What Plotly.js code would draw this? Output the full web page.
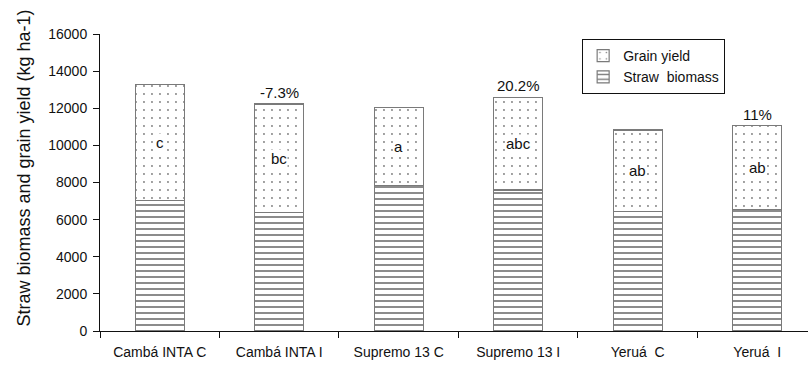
<!DOCTYPE html>
<html>
<head>
<meta charset="utf-8">
<script src="https://cdn.plot.ly/plotly-3.0.1.min.js"></script>
<style>
  html, body { margin: 0; padding: 0; background: #fff; }
  #chart { width: 808px; height: 367px; }
</style>
</head>
<body>
<div id="chart"></div>
<script>
// Cultivars / treatments on the x axis
const categories = ['Cambá INTA C', 'Cambá INTA I', 'Supremo 13 C', 'Supremo 13 I', 'Yeruá\u00a0 C', 'Yeruá\u00a0 I'];
// Straw biomass (kg ha-1), lower stacked segment
const straw = [7050, 6400, 7820, 7600, 6430, 6560];
// Grain yield (kg ha-1), upper stacked segment
const grain = [6250, 5830, 4230, 4990, 4400, 4500];
// Significance letters for grain yield
const letters = ['c', 'bc', 'a', 'abc', 'ab', 'ab'];
// Relative change labels shown above the bars
const changes = ['', '-7.3%', '', '20.2%', '', '11%'];
// Y axis ticks
const yTicks = [0, 2000, 4000, 6000, 8000, 10000, 12000, 14000, 16000];

const FONT = 'Liberation Sans, Arial, Helvetica, sans-serif';
const outline = { color: '#7a7a7a', width: 1.2 };

const strawTrace = {
  type: 'bar',
  name: 'Straw\u00a0 biomass',
  x: categories,
  y: straw,
  width: 0.41,
  marker: {
    color: '#ffffff',
    line: outline,
    pattern: { shape: '-', size: 6, solidity: 0.3, fgcolor: '#000000', bgcolor: '#ffffff', fillmode: 'overlay' }
  },
  hoverinfo: 'skip'
};

const grainTrace = {
  type: 'bar',
  name: 'Grain yield',
  x: categories,
  y: grain,
  width: 0.41,
  marker: {
    color: '#ffffff',
    line: outline,
    pattern: { shape: '.', size: 8, solidity: 0.045, fgcolor: '#000000', bgcolor: '#ffffff', fillmode: 'overlay' }
  },
  hoverinfo: 'skip'
};

const annotations = [];
categories.forEach((c, i) => {
  const total = straw[i] + grain[i];
  annotations.push({
    x: c, y: straw[i] + grain[i] / 2, xref: 'x', yref: 'y',
    text: letters[i], showarrow: false,
    font: { family: FONT, size: 15, color: '#111' },
    bgcolor: '#ffffff', borderpad: 0
  });
  if (changes[i]) {
    annotations.push({
      x: c, y: total, xref: 'x', yref: 'y',
      text: changes[i], showarrow: false, yanchor: 'bottom', yshift: 1,
      font: { family: FONT, size: 15, color: '#111' }
    });
  }
});

// Vertical axis title, drawn as a rotated paper-anchored label
annotations.push({
  xref: 'paper', yref: 'paper', x: -0.1073, y: 0.547,
  xanchor: 'center', yanchor: 'middle', textangle: -90,
  text: 'Straw biomass and grain yield (kg ha-1)', showarrow: false,
  font: { family: FONT, size: 18, color: '#111' }
});

const layout = {
  width: 808,
  height: 367,
  margin: { l: 100, r: 0, t: 34, b: 36 },
  paper_bgcolor: '#ffffff',
  plot_bgcolor: '#ffffff',
  barmode: 'stack',
  showlegend: true,
  font: { family: FONT, size: 14, color: '#111' },
  xaxis: {
    type: 'category',
    range: [-0.5, 5.425],
    showline: true, linecolor: '#111', linewidth: 1,
    ticks: 'outside', tickson: 'boundaries', ticklen: 6, tickcolor: '#111',
    tickfont: { family: FONT, size: 14, color: '#111' },
    ticklabelstandoff: 8,
    showgrid: false, zeroline: false, fixedrange: true
  },
  yaxis: {
    range: [0, 16000],
    tickvals: yTicks,
    tickformat: 'd',
    showline: true, linecolor: '#111', linewidth: 1,
    ticks: 'outside', ticklen: 6, tickcolor: '#111',
    tickfont: { family: FONT, size: 14, color: '#111' },
    ticklabelstandoff: 3,
    showgrid: false, zeroline: false, fixedrange: true
  },
  legend: {
    x: 0.681, y: 0.983, xanchor: 'left', yanchor: 'top',
    bordercolor: '#111', borderwidth: 1, bgcolor: '#ffffff',
    font: { family: FONT, size: 14, color: '#111' },
    itemwidth: 30, tracegroupgap: 0
  },
  annotations: annotations
};

Plotly.newPlot('chart', [strawTrace, grainTrace], layout, { displayModeBar: false, staticPlot: true });
</script>
</body>
</html>
